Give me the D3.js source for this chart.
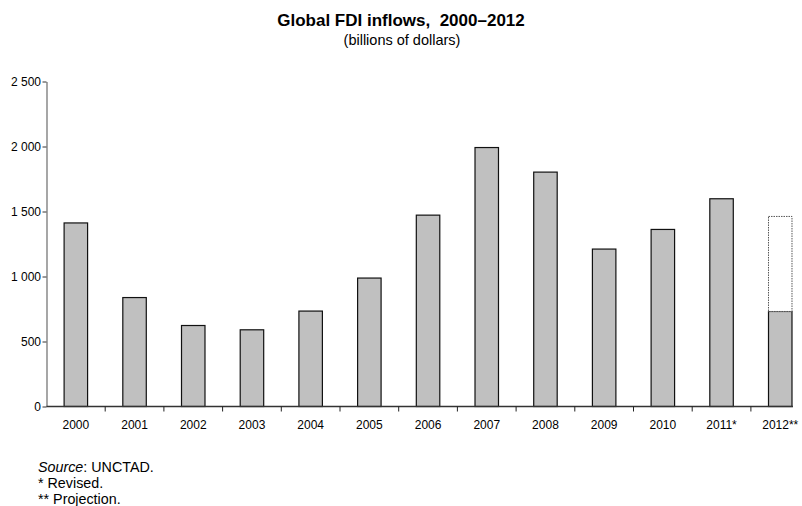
<!DOCTYPE html>
<html>
<head>
<meta charset="utf-8">
<script src="https://cdn.jsdelivr.net/npm/d3@7"></script>
<style>
  body { margin: 0; background: #fff; }
  text { font-family: "Liberation Sans", Arial, sans-serif; fill: #000; }
</style>
</head>
<body>
<div id="chart"></div>
<script>
  const years = ["2000", "2001", "2002", "2003", "2004", "2005", "2006",
    "2007", "2008", "2009", "2010", "2011*", "2012**"];
  const inflows = [1412, 838, 623, 590, 734, 988, 1472, 1992, 1803, 1211, 1362, 1598, 731];
  const projectionYear = "2012**";
  const projectionHigh = 1462;
  const yTicks = [0, 500, 1000, 1500, 2000, 2500];
  const notes = ["* Revised.", "** Projection."];

  const W = 802, H = 506;
  const plotLeft = 46.5, baseline = 406.5, plotTop = 81.5;

  const svg = d3.select("#chart")
    .append("svg")
    .attr("width", W)
    .attr("height", H);

  const x = d3.scaleBand()
    .domain(years)
    .range([plotLeft, 809.6])
    .paddingInner(0.6)
    .paddingOuter(0.3);

  const y = d3.scaleLinear()
    .domain([0, 2500])
    .range([baseline, plotTop]);

  const locale = d3.formatLocale({ decimal: ",", thousands: "\u00a0", grouping: [3], currency: ["", ""] });
  const fmt = locale.format(",d");

  // title
  svg.append("text")
    .attr("x", 401).attr("y", 26)
    .attr("text-anchor", "middle")
    .style("font-size", "17px")
    .style("font-weight", "bold")
    .text("Global FDI inflows,\u00a0 2000\u20132012");

  svg.append("text")
    .attr("x", 402).attr("y", 45)
    .attr("text-anchor", "middle")
    .style("font-size", "14.5px")
    .text("(billions of dollars)");

  // bars
  svg.selectAll(".bar")
    .data(years)
    .enter()
    .append("rect")
    .attr("class", "bar")
    .attr("x", d => x(d))
    .attr("width", x.bandwidth())
    .attr("y", (d, i) => y(inflows[i]))
    .attr("height", (d, i) => y(0) - y(inflows[i]))
    .attr("fill", "#c0c0c0")
    .attr("stroke", "#111")
    .attr("stroke-width", 1.2);

  // projected range for 2012
  svg.append("rect")
    .attr("x", x(projectionYear))
    .attr("width", x.bandwidth())
    .attr("y", y(projectionHigh))
    .attr("height", y(inflows[years.indexOf(projectionYear)]) - y(projectionHigh))
    .attr("fill", "#fff")
    .attr("stroke", "#555")
    .attr("stroke-width", 1)
    .attr("stroke-dasharray", "1.5,1");

  // y axis
  const yAxis = svg.append("g")
    .attr("transform", `translate(${plotLeft},0)`)
    .call(d3.axisLeft(y).tickValues(yTicks).tickFormat(fmt).tickSize(4).tickSizeOuter(0));
  yAxis.select(".domain").attr("stroke", "#777").attr("stroke-width", 1.3);
  yAxis.selectAll(".tick line").attr("stroke", "#333");
  yAxis.selectAll(".tick text")
    .attr("x", -5.5)
    .style("font-size", "12px")
    .style("font-family", "'Liberation Sans', Arial, sans-serif");

  // x axis
  const xAxis = svg.append("g")
    .attr("transform", `translate(0,${baseline})`)
    .call(d3.axisBottom(x).tickSize(0).tickPadding(14));
  xAxis.select(".domain").remove();
  xAxis.selectAll(".tick text")
    .style("font-size", "12px")
    .style("font-family", "'Liberation Sans', Arial, sans-serif");

  xAxis.append("line")
    .attr("x1", plotLeft).attr("x2", 793)
    .attr("stroke", "#333")
    .attr("stroke-width", 1.3);

  const step = x.step();
  xAxis.selectAll(".sep")
    .data(years.slice(0, -1))
    .enter()
    .append("line")
    .attr("class", "sep")
    .attr("x1", d => x(d) + x.bandwidth() + step * 0.3)
    .attr("x2", d => x(d) + x.bandwidth() + step * 0.3)
    .attr("y1", 0).attr("y2", 5)
    .attr("stroke", "#222");

  // footnotes
  const src = svg.append("text")
    .attr("x", 38).attr("y", 471.5)
    .style("font-size", "14.3px");
  src.append("tspan").style("font-style", "italic").text("Source");
  src.append("tspan").text(": UNCTAD.");

  svg.selectAll(".note")
    .data(notes)
    .enter()
    .append("text")
    .attr("class", "note")
    .attr("x", 38)
    .attr("y", (d, i) => 488 + i * 16.3)
    .style("font-size", "14.3px")
    .text(d => d);
</script>
</body>
</html>
